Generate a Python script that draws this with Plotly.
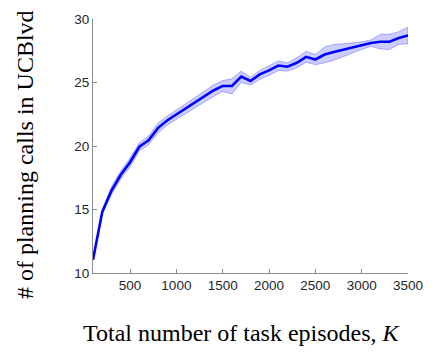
import plotly.graph_objects as go

# Episodes K and mean number of planning calls, with the shaded spread
episodes = [100, 200, 300, 400, 500, 600, 700, 800, 900, 1000,
            1100, 1200, 1300, 1400, 1500, 1600, 1700, 1800, 1900, 2000,
            2100, 2200, 2300, 2400, 2500, 2600, 2700, 2800, 2900, 3000,
            3100, 3200, 3300, 3400, 3500]
mean_calls = [11.05, 14.82, 16.49, 17.73, 18.72, 19.94, 20.45, 21.41, 22.01, 22.48,
              22.92, 23.44, 23.90, 24.37, 24.73, 24.73, 25.46, 25.12, 25.64, 25.95,
              26.34, 26.24, 26.55, 27.02, 26.81, 27.20, 27.41, 27.59, 27.72, 27.90,
              28.11, 28.21, 28.21, 28.50, 28.70]
upper_calls = [11.05, 15.0, 16.8, 18.05, 19.05, 20.25, 20.8, 21.8, 22.35, 22.85,
               23.3, 23.85, 24.35, 24.8, 25.15, 25.3, 25.9, 25.4, 25.95, 26.3,
               26.7, 26.55, 26.95, 27.46, 27.2, 27.8, 28.0, 28.05, 28.1, 28.2,
               28.35, 28.8, 28.8, 29.0, 29.35]
lower_calls = [11.05, 14.6, 16.2, 17.4, 18.35, 19.6, 20.1, 21.0, 21.65, 22.1,
               22.5, 23.0, 23.45, 23.9, 24.3, 24.1, 25.0, 24.8, 25.25, 25.55,
               25.95, 25.9, 26.15, 26.6, 26.4, 26.55, 26.75, 27.05, 27.3, 27.6,
               27.85, 27.64, 27.6, 28.0, 28.05]

x_ticks = [500, 1000, 1500, 2000, 2500, 3000, 3500]
y_ticks = [10, 15, 20, 25, 30]

fig = go.Figure()
fig.add_trace(go.Scatter(
    x=episodes + episodes[::-1],
    y=upper_calls + lower_calls[::-1],
    fill="toself",
    fillcolor="rgba(0,0,255,0.2)",
    line=dict(color="rgba(0,0,255,0.35)", width=0.8),
    hoverinfo="skip",
    showlegend=False,
))
fig.add_trace(go.Scatter(
    x=episodes, y=mean_calls, mode="lines",
    line=dict(color="rgb(0,0,255)", width=2.6),
    showlegend=False,
))

axis_common = dict(
    showline=True, linecolor="#8c8c8c", linewidth=1,
    ticks="inside", ticklen=4, tickcolor="#8c8c8c",
    showgrid=False, zeroline=False,
    tickfont=dict(family="Liberation Sans, Arial, sans-serif", size=13.5, color="#262626"),
)

serif = dict(family="Liberation Serif, Times New Roman, serif", size=24, color="black")

fig.update_layout(
    width=435, height=352,
    margin=dict(l=93, r=17, t=16, b=79),
    paper_bgcolor="white", plot_bgcolor="white",
    xaxis=dict(range=[100, 3500], tickvals=x_ticks, **axis_common),
    yaxis=dict(range=[10, 30], tickvals=y_ticks, **axis_common),
    annotations=[
        dict(text="Total number of task episodes, <i>K</i>",
             xref="paper", yref="paper", x=(246.5 - 93) / 325, y=-(334 - 273) / 257,
             xanchor="center", yanchor="middle", showarrow=False, font=serif),
        dict(text="# of planning calls in UCBlvd",
             xref="paper", yref="paper", x=(23 - 93) / 325, y=(273 - 153.5) / 257,
             xanchor="center", yanchor="middle", textangle=-90, showarrow=False, font=serif),
    ],
)

fig.write_html("out.html")
